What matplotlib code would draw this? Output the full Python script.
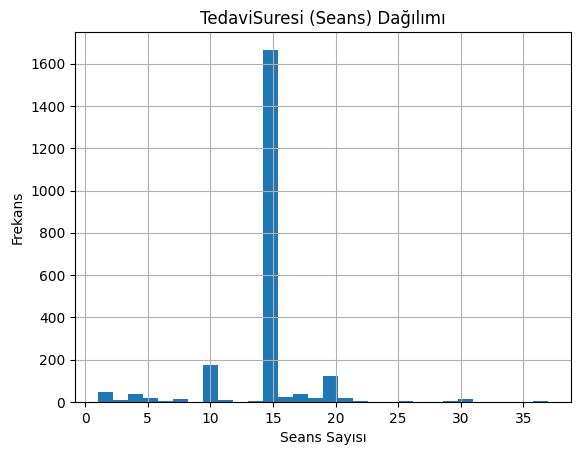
import numpy as np
import matplotlib
matplotlib.use("Agg")
import matplotlib.pyplot as plt

bin_min, bin_max, n_bins = 1, 37, 30
counts = [47, 9, 38, 19, 4, 14, 0, 173, 8, 0,
          3, 1668, 26, 36, 17, 121, 17, 3, 0, 0,
          3, 0, 0, 3, 12, 0, 0, 0, 0, 3]
title = "TedaviSuresi (Seans) Dağılımı"
xlabel = "Seans Sayısı"
ylabel = "Frekans"

edges = np.linspace(bin_min, bin_max, n_bins + 1)
centers = (edges[:-1] + edges[1:]) / 2

fig = plt.figure(figsize=(5.8, 4.55), dpi=100)
ax = fig.add_axes([75/580, 1-402/455, (571-75)/580, (402-32)/455])
ax.hist(centers, bins=edges, weights=counts, color="#1f77b4")
ax.grid(True)
ax.set_title(title)
ax.set_xlabel(xlabel)
ax.set_ylabel(ylabel)
fig.savefig("out.png", dpi=100)
